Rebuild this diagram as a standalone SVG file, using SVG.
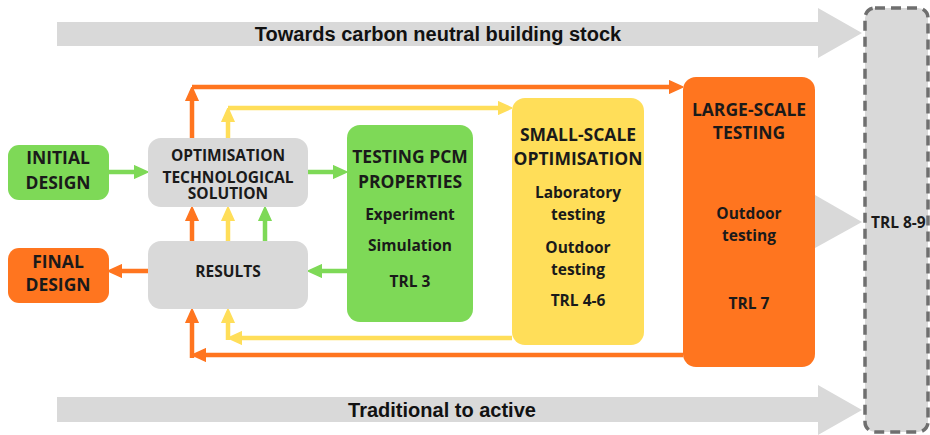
<svg xmlns="http://www.w3.org/2000/svg" width="930" height="435" viewBox="0 0 930 435">
<style>
.big{fill:#d9d9d9}
.bt{font-family:"Liberation Sans",Arial,sans-serif;font-weight:bold;font-size:20px;fill:#111;text-anchor:middle}
.nt{font-family:"Open Sans","Noto Sans",sans-serif;font-weight:bold;font-size:17.5px;fill:#1a1a1a;text-anchor:middle}
.st{font-family:"Open Sans","Noto Sans",sans-serif;font-weight:bold;font-size:15.5px;fill:#1a1a1a;text-anchor:middle}
.g{fill:#7ed957}.y{fill:#ffde59}.o{fill:#ff751f}.gr{fill:#d9d9d9}
.cg{stroke:#7ed957;stroke-width:4.5;fill:none}
.cy{stroke:#ffde59;stroke-width:4.5;fill:none}
.co{stroke:#ff751f;stroke-width:4.5;fill:none}
</style>
<defs>
<marker id="ag" viewBox="0 0 10 10" refX="5" refY="5" markerWidth="14" markerHeight="14" markerUnits="userSpaceOnUse" orient="auto"><path d="M0,0.5 L10,5 L0,9.5 z" fill="#7ed957" stroke="#7ed957" stroke-width="1" stroke-linejoin="round"/></marker>
<marker id="ay" viewBox="0 0 10 10" refX="5" refY="5" markerWidth="14" markerHeight="14" markerUnits="userSpaceOnUse" orient="auto"><path d="M0,0.5 L10,5 L0,9.5 z" fill="#ffde59" stroke="#ffde59" stroke-width="1" stroke-linejoin="round"/></marker>
<marker id="ao" viewBox="0 0 10 10" refX="5" refY="5" markerWidth="14" markerHeight="14" markerUnits="userSpaceOnUse" orient="auto"><path d="M0,0.5 L10,5 L0,9.5 z" fill="#ff751f" stroke="#ff751f" stroke-width="1" stroke-linejoin="round"/></marker>
</defs>

<g id="arrow-top">
<polygon class="big" points="57,22 818,22 818,8 862,33 818,58 818,46 57,46"/>
<text class="bt" x="438" y="41">Towards carbon neutral building stock</text>
</g>
<g id="arrow-bottom">
<polygon class="big" points="57,397 818,397 818,385 862,410 818,435 818,422 57,422"/>
<text class="bt" x="442" y="417">Traditional to active</text>
</g>

<g id="trl89">
<rect x="865" y="8" width="63" height="424" rx="10" fill="#d9d9d9" stroke="#6f6f6f" stroke-width="3.5" stroke-dasharray="10,6"/>
<text class="st" x="871" y="228" style="text-anchor:start">TRL 8-9</text>
</g>

<g id="large-to-trl">
<polygon class="gr" points="815,195 862,222 815,248"/>
</g>

<g id="connectors">
<line class="cg" x1="108" y1="172" x2="141" y2="172" marker-end="url(#ag)"/>
<line class="cg" x1="308" y1="172" x2="340" y2="172" marker-end="url(#ag)"/>
<line class="cg" x1="347" y1="271" x2="315" y2="271" marker-end="url(#ag)"/>
<line class="co" x1="148" y1="271" x2="115" y2="271" marker-end="url(#ao)"/>
<line class="co" x1="192" y1="241" x2="192" y2="214" marker-end="url(#ao)"/>
<line class="cy" x1="228" y1="241" x2="228" y2="214" marker-end="url(#ay)"/>
<line class="cg" x1="265" y1="241" x2="265" y2="214" marker-end="url(#ag)"/>
<line class="co" x1="192" y1="138" x2="192" y2="94" marker-end="url(#ao)"/>
<line class="co" x1="192" y1="87" x2="676" y2="87" marker-end="url(#ao)"/>
<line class="cy" x1="228" y1="138" x2="228" y2="115" marker-end="url(#ay)"/>
<line class="cy" x1="228" y1="108" x2="505" y2="108" marker-end="url(#ay)"/>
<line class="cy" x1="512" y1="338" x2="235" y2="338" marker-end="url(#ay)"/>
<line class="cy" x1="228" y1="340" x2="228" y2="316" marker-end="url(#ay)"/>
<line class="co" x1="683" y1="355" x2="199" y2="355" marker-end="url(#ao)"/>
<line class="co" x1="192" y1="358" x2="192" y2="316" marker-end="url(#ao)"/>
</g>

<g id="initial-design">
<rect class="g" x="8" y="145" width="101" height="55" rx="11"/>
<text class="nt" x="58" y="164">INITIAL</text>
<text class="nt" x="58" y="189">DESIGN</text>
</g>
<g id="final-design">
<rect class="o" x="8" y="248" width="101" height="55" rx="11"/>
<text class="nt" x="58" y="268">FINAL</text>
<text class="nt" x="58" y="291">DESIGN</text>
</g>
<g id="optimisation">
<rect class="gr" x="148" y="138" width="160" height="69" rx="13"/>
<text class="st" x="228" y="161">OPTIMISATION</text>
<text class="st" x="228" y="183">TECHNOLOGICAL</text>
<text class="st" x="228" y="199">SOLUTION</text>
</g>
<g id="results">
<rect class="gr" x="148" y="241" width="160" height="68" rx="13"/>
<text class="st" x="228" y="277">RESULTS</text>
</g>
<g id="testing-pcm">
<rect class="g" x="347" y="125" width="126" height="197" rx="13"/>
<text class="nt" x="410" y="163">TESTING PCM</text>
<text class="nt" x="410" y="188">PROPERTIES</text>
<text class="st" x="410" y="220">Experiment</text>
<text class="st" x="410" y="251">Simulation</text>
<text class="st" x="410" y="287">TRL 3</text>
</g>
<g id="small-scale">
<rect class="y" x="512" y="98" width="132" height="247" rx="13"/>
<text class="nt" x="578" y="141">SMALL-SCALE</text>
<text class="nt" x="578" y="165">OPTIMISATION</text>
<text class="st" x="578" y="198">Laboratory</text>
<text class="st" x="578" y="220">testing</text>
<text class="st" x="578" y="253">Outdoor</text>
<text class="st" x="578" y="275">testing</text>
<text class="st" x="578" y="306">TRL 4-6</text>
</g>
<g id="large-scale">
<rect class="o" x="683" y="77" width="132" height="290" rx="13"/>
<text class="nt" x="749" y="116">LARGE-SCALE</text>
<text class="nt" x="749" y="139">TESTING</text>
<text class="st" x="749" y="219">Outdoor</text>
<text class="st" x="749" y="241">testing</text>
<text class="st" x="749" y="309">TRL 7</text>
</g>
</svg>
